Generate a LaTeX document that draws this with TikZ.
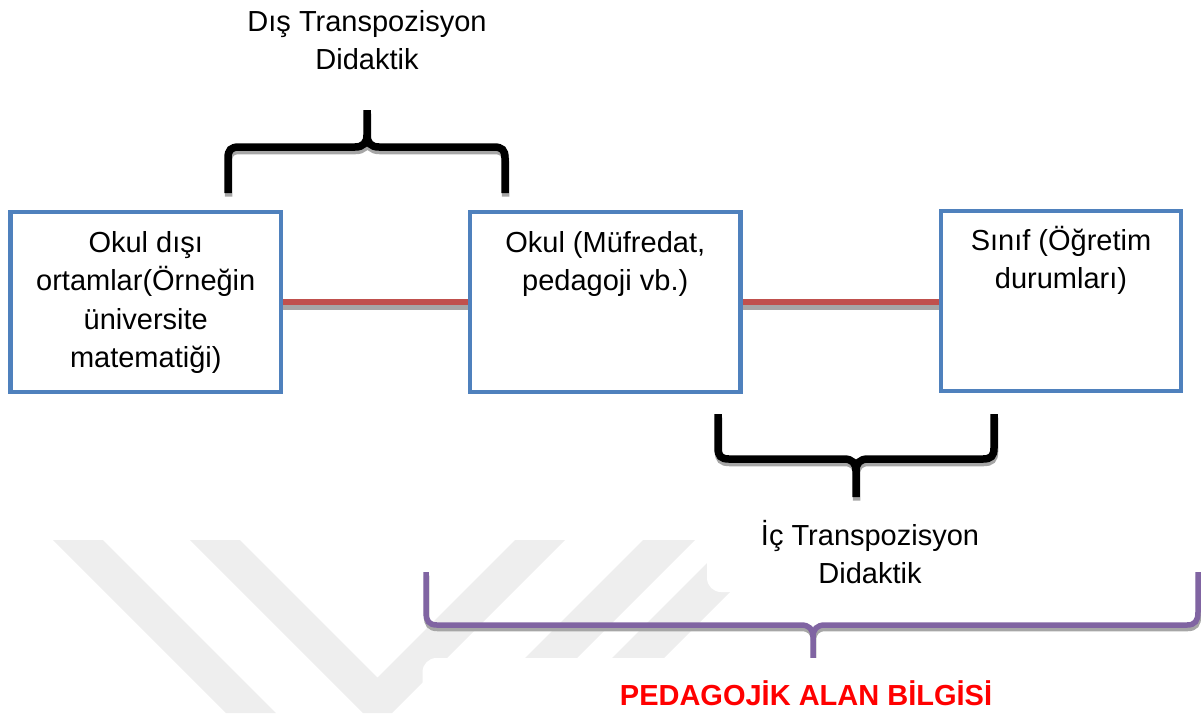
\documentclass[tikz,border=0pt]{standalone}
\usepackage{fontspec}
\setmainfont{Liberation Sans}
\definecolor{boxblue}{HTML}{4F81BD}
\definecolor{linkred}{HTML}{C0504D}
\definecolor{bracepurple}{HTML}{8064A2}
\definecolor{shadegray}{HTML}{A6A6A6}
\definecolor{wmgray}{HTML}{EEEEEE}
\definecolor{pakred}{HTML}{FF0000}

% outer brace over the first two stages (tip up)
\newcommand{\outerbrace}{(228,193) -- (228,158) .. controls (228,150) and (231,147) .. (239,147) -- (355,147) .. controls (363,147) and (367,143) .. (367,135) -- (367,110) (367,135) .. controls (367,143) and (371,147) .. (379,147) -- (494,147) .. controls (502,147) and (505,150) .. (505,158) -- (505,193)}
% inner brace under the last two stages (tip down)
\newcommand{\innerbrace}{(718,414) -- (718,448) .. controls (718,456) and (721,459) .. (729,459) -- (844,459) .. controls (852,459) and (856,463) .. (856,471) -- (856,497) (856,471) .. controls (856,463) and (860,459) .. (868,459) -- (983,459) .. controls (991,459) and (994,456) .. (994,448) -- (994,414)}
% wide brace for pedagogical content knowledge (tip down)
\newcommand{\pakbrace}{(426,572) -- (426,612) .. controls (426,621) and (429,625) .. (437,625) -- (801,625) .. controls (809,625) and (813,629) .. (813,637) -- (813,662) (813,637) .. controls (813,629) and (817,625) .. (825,625) -- (1187,625) .. controls (1195,625) and (1198,621) .. (1198,612) -- (1198,572)}

\begin{document}
\begin{tikzpicture}[x=1pt,y=-1pt,
  every node/.style={font=\fontsize{29}{38.5}\selectfont, inner sep=0pt, outer sep=0pt},
  stage/.style={draw=boxblue, line width=4.5pt, fill=white, outer sep=2.25pt},
  link/.style={draw=linkred, line width=6.5pt},
  linkshadow/.style={draw=shadegray, line width=6.5pt},
  bracemain/.style={line width=7.5pt, line cap=butt},
  braceshadow/.style={draw=shadegray, line width=7.5pt, line cap=butt},
  pakmain/.style={draw=bracepurple, line width=5.5pt, line cap=butt},
  pakshadow/.style={draw=shadegray, line width=5.5pt, line cap=butt},
  caption/.style={fill=white, rounded corners=14pt},
]
\useasboundingbox (0,0) rectangle (1201,713);

% faint background watermark stripes
\fill[wmgray] (53,540) -- (103,540) -- (276,713) -- (226,713) -- cycle;
\fill[wmgray] (190,540) -- (240,540) -- (377.5,677.5) -- (515,540) -- (565,540) -- (392,713) -- (363,713) -- cycle;
\fill[wmgray] (643,540) -- (695,540) -- (522,713) -- (470,713) -- cycle;
\fill[wmgray] (730,540) -- (782,540) -- (609,713) -- (557,713) -- cycle;

% the three stages
\node[stage] (b1) at (145.75,302) {\parbox[c][180pt][t]{270.5pt}{\centering\rule{0pt}{40pt}Okul dışı\\ortamlar(Örneğin\\üniversite\\matematiği)}};
\node[stage] (b2) at (605.25,302) {\parbox[c][180pt][t]{270.5pt}{\centering\rule{0pt}{40pt}Okul (Müfredat,\\pedagoji vb.)}};
\node[stage] (b3) at (1061,301) {\parbox[c][180pt][t]{240pt}{\centering\rule{0pt}{39pt}Sınıf (Öğretim\\durumları)}};

% links between stages
\draw[linkshadow] ([shift={(0,4.5)}]b1.east) -- ([shift={(0,4.5)}]b2.west);
\draw[link] (b1.east) -- (b2.west);
\draw[linkshadow] ([shift={(0,4.5)}]b2.east) -- ([shift={(0,4.5)}]b2.east -| b3.west);
\draw[link] (b2.east) -- (b2.east -| b3.west);

% braces
\begin{scope}[shift={(0.5,3.5)}]
  \draw[braceshadow] \outerbrace;
  \draw[braceshadow] \innerbrace;
  \draw[pakshadow] \pakbrace;
\end{scope}
\draw[bracemain] \outerbrace;
\draw[bracemain] \innerbrace;
\draw[pakmain] \pakbrace;

% brace captions
\node[anchor=north, align=center] (dis) at (367,7) {\rule{0pt}{24pt}Dış Transpozisyon\\Didaktik};
\node[caption] (ic) at (870,548.5) {\parbox[c][87pt][t]{326pt}{\centering\rule{0pt}{40pt}İç Transpozisyon\\Didaktik}};
\node[caption, anchor=north, minimum width=767pt, minimum height=68pt, text height=26pt, text depth=0pt,
      text=pakred, font=\fontsize{29}{38.5}\selectfont\bfseries] (pak) at (806,658) {PEDAGOJİK ALAN BİLGİSİ};
\end{tikzpicture}
\end{document}
